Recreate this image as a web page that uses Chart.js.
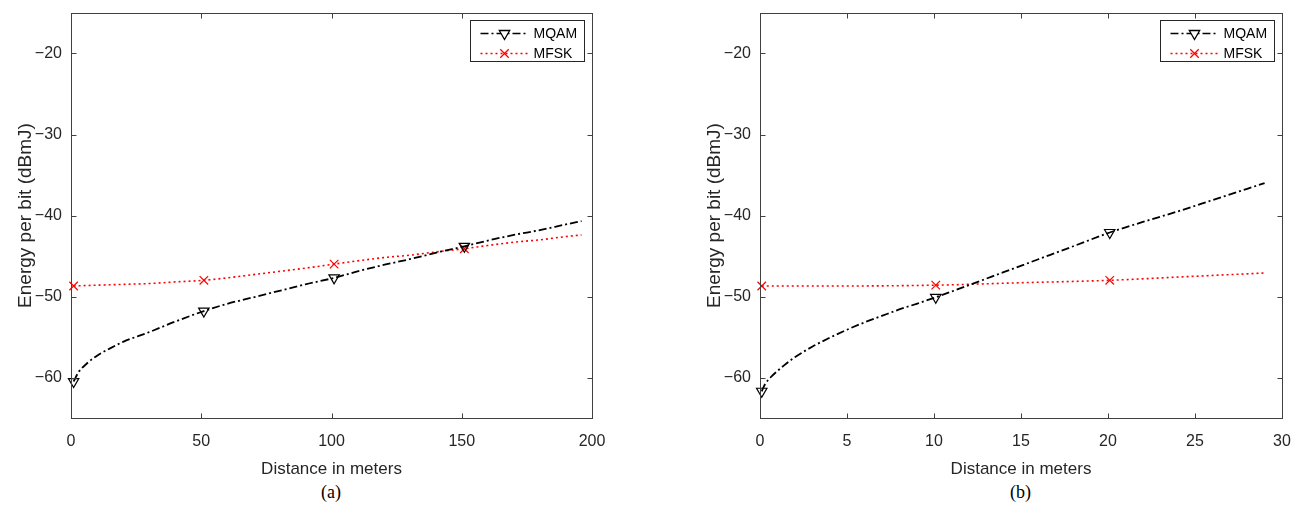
<!DOCTYPE html>
<html><head><meta charset="utf-8">
<script src="https://cdn.jsdelivr.net/npm/chart.js@4"></script>
<style>
html,body{margin:0;padding:0;background:#fff;width:1298px;height:514px;overflow:hidden;}
.wrap{position:absolute;top:0;height:480px;}
.cap{position:absolute;top:482px;font-family:"Liberation Serif","DejaVu Serif",serif;font-size:18px;color:#000;}
</style></head><body>
<div class="wrap" style="left:0;width:640px;"><canvas id="ca" width="640" height="480"></canvas></div>
<div class="wrap" style="left:689px;width:609px;"><canvas id="cb" width="609" height="480"></canvas></div>
<div class="cap" style="left:321px;">(a)</div>
<div class="cap" style="left:1010px;">(b)</div>
<script>
// ---- data (a) ----
const distA_MQAM = [1,3,6,10,15,20,30,40,51,60,70,80,90,101,110,120,130,140,151,160,170,180,190,196];
const mqamA = [-60.5,-59.3,-58.3,-57.3,-56.4,-55.6,-54.4,-53.1,-51.8,-50.9,-50.1,-49.3,-48.5,-47.7,-46.9,-46.1,-45.4,-44.6,-43.8,-43.1,-42.4,-41.8,-41.1,-40.7];
const distA_MFSK = [1,10,20,30,40,51,60,70,80,90,101,110,120,130,140,151,160,170,180,190,196];
const mfskA = [-48.7,-48.6,-48.5,-48.4,-48.2,-48.0,-47.7,-47.3,-46.9,-46.5,-46.0,-45.6,-45.2,-44.9,-44.5,-44.1,-43.7,-43.3,-43.0,-42.6,-42.4];
const markersA = [1,51,101,151];
const xTicksA = [0,50,100,150,200];
// ---- data (b) ----
const distB_MQAM = [0.1,0.3,0.6,1,1.5,2,3,4,5,6,7,8,9,10.1,12,14,16,18,20.1,22,24,26,28,29];
const mqamB = [-61.7,-60.8,-60.0,-59.2,-58.3,-57.5,-56.2,-55.1,-54.1,-53.2,-52.4,-51.6,-50.9,-50.1,-48.6,-47.0,-45.4,-43.8,-42.1,-40.8,-39.5,-38.1,-36.7,-36.0];
const distB_MFSK = [0.1,5,10.1,15,20.1,25,29];
const mfskB = [-48.7,-48.7,-48.6,-48.3,-48.0,-47.5,-47.1];
const markersB = [0.1,10.1,20.1];
const xTicksB = [0,5,10,15,20,25,30];
const yTicks = [-60,-50,-40,-30,-20];
const seriesNames = ['MQAM','MFSK'];

const FONT = '"Liberation Sans", Arial, sans-serif';
const TXT = '#262626';
const AX = '#404040';

function pts(xs, ys){ return xs.map((x,i)=>({x:x,y:ys[i]})); }

const boxPlugin = {
  id:'boxPlugin',
  afterDatasetsDraw(chart){
    const {ctx, chartArea:a, scales} = chart;
    ctx.save();
    ctx.strokeStyle = AX; ctx.lineWidth = 1;
    const L = 5;
    const l = Math.round(a.left)+0.5, r = Math.round(a.right)+0.5, t = Math.round(a.top)+0.5, b = Math.round(a.bottom)+0.5;
    ctx.beginPath();
    scales.x.ticks.forEach(tk=>{
      const px = Math.round(scales.x.getPixelForValue(tk.value))+0.5;
      ctx.moveTo(px,b); ctx.lineTo(px,b-L);
      ctx.moveTo(px,t); ctx.lineTo(px,t+L);
    });
    scales.y.ticks.forEach(tk=>{
      const py = Math.round(scales.y.getPixelForValue(tk.value))+0.5;
      ctx.moveTo(l,py); ctx.lineTo(l+L,py);
      ctx.moveTo(r,py); ctx.lineTo(r-L,py);
    });
    ctx.stroke();
    ctx.strokeRect(l, t, r-l, b-t);
    // legend
    const bw=114, bh=41;
    const bx = Math.round(a.right-8-bw)+0.5, by = Math.round(a.top+7)+0.5;
    ctx.fillStyle='#fff'; ctx.fillRect(bx,by,bw,bh);
    ctx.strokeStyle='#262626'; ctx.strokeRect(bx,by,bw,bh);
    chart.data.datasets.forEach((ds,i)=>{
      const yy = by + 13 + i*20;
      const x0 = bx+10, x1 = bx+58, xm = (x0+x1)/2;
      ctx.save();
      ctx.strokeStyle = ds.borderColor; ctx.lineWidth = 1.3;
      ctx.setLineDash(ds.borderDash);
      ctx.beginPath(); ctx.moveTo(x0,yy); ctx.lineTo(x1,yy); ctx.stroke();
      ctx.setLineDash([]);
      Chart.helpers.drawPoint(ctx, {pointStyle: ds.pointStyle, rotation: ds.pointRotation||0, radius: 6, borderWidth: 1.2}, xm, yy);
      ctx.restore();
      ctx.fillStyle = '#000'; ctx.font = '14px '+FONT; ctx.textBaseline='middle'; ctx.textAlign='left';
      ctx.fillText(ds.label, bx+63, yy+1);
    });
    ctx.restore();
  }
};

function makeChart(id, xs1, ys1, xs2, ys2, marks, xTicks, xmax, padRight){
  const rad = xs => xs.map(x => marks.includes(x) ? 6 : 0);
  return new Chart(document.getElementById(id), {
    type:'line',
    data:{ datasets:[
      { label:seriesNames[0], data:pts(xs1,ys1), borderColor:'#000', backgroundColor:'rgba(0,0,0,0)',
        borderWidth:1.8, borderDash:[8,3,2,3], pointStyle:'triangle', pointRotation:180,
        pointRadius:rad(xs1), pointBorderColor:'#000', pointBackgroundColor:'rgba(0,0,0,0)', pointBorderWidth:1.2,
        cubicInterpolationMode:'monotone', clip:false },
      { label:seriesNames[1], data:pts(xs2,ys2), borderColor:'#ff0000', backgroundColor:'rgba(0,0,0,0)',
        borderWidth:1.6, borderDash:[2,3], pointStyle:'crossRot',
        pointRadius:rad(xs2), pointBorderColor:'#ff0000', pointBorderWidth:1.2,
        cubicInterpolationMode:'monotone', clip:false }
    ]},
    options:{
      responsive:false, animation:false, devicePixelRatio:1,
      layout:{padding:{top:13,right:padRight,left:0,bottom:0}},
      plugins:{legend:{display:false}, tooltip:{enabled:false}},
      scales:{
        x:{ type:'linear', min:0, max:xmax,
            afterBuildTicks(s){ s.ticks = xTicks.map(v=>({value:v})); },
            afterFit(s){ s.height = 62; },
            border:{display:false}, grid:{display:false},
            ticks:{ color:TXT, font:{family:FONT,size:16}, padding:6, maxRotation:0 },
            title:{ display:true, text:'Distance in meters', color:TXT, font:{family:FONT,size:17}, padding:{top:1,bottom:0} } },
        y:{ type:'linear', min:-65, max:-15,
            afterBuildTicks(s){ s.ticks = yTicks.map(v=>({value:v})); },
            afterFit(s){ s.width = 71; },
            border:{display:false}, grid:{display:false},
            ticks:{ color:TXT, font:{family:FONT,size:16}, padding:1,
                    callback:v=>String(v).replace('-','\u2212') },
            title:{ display:true, text:'Energy per bit (dBmJ)', color:TXT, font:{family:FONT,size:19}, padding:{top:14,bottom:0} } }
      }
    },
    plugins:[boxPlugin]
  });
}
makeChart('ca', distA_MQAM, mqamA, distA_MFSK, mfskA, markersA, xTicksA, 200, 48);
makeChart('cb', distB_MQAM, mqamB, distB_MFSK, mfskB, markersB, xTicksB, 30, 16);
</script></body></html>
